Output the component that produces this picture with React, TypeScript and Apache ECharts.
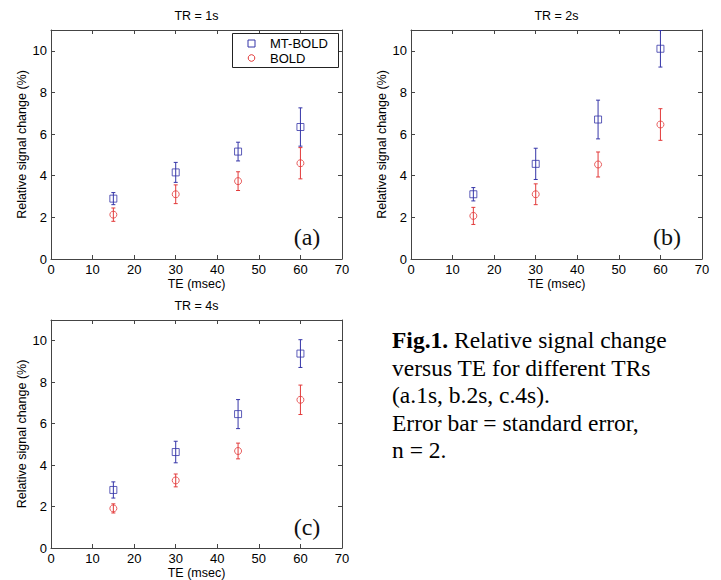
import React, { useEffect, useRef } from "react";
import * as echarts from "echarts";

// ---- data ----
const teValues = [15, 30, 45, 60];
const xTicks = [0, 10, 20, 30, 40, 50, 60, 70];
const panelTitles = ["TR = 1s", "TR = 2s", "TR = 4s"];
const panelTags = ["(a)", "(b)", "(c)"];
const seriesNames = ["MT-BOLD", "BOLD"];

const mtBoldA = [2.9, 4.16, 5.16, 6.34];
const mtBoldErrA = [0.29, 0.48, 0.45, 0.92];
const boldA = [2.13, 3.11, 3.74, 4.6];
const boldErrA = [0.32, 0.45, 0.45, 0.75];

const mtBoldB = [3.11, 4.57, 6.7, 10.1];
const mtBoldErrB = [0.32, 0.75, 0.93, 0.88];
const boldB = [2.07, 3.11, 4.54, 6.46];
const boldErrB = [0.41, 0.5, 0.6, 0.76];

const mtBoldC = [2.8, 4.63, 6.46, 9.38];
const mtBoldErrC = [0.39, 0.52, 0.7, 0.67];
const boldC = [1.91, 3.26, 4.68, 7.15];
const boldErrC = [0.22, 0.31, 0.38, 0.71];

const captionLines = [
  "Relative signal change",
  "versus TE for different TRs",
  "(a.1s, b.2s, c.4s).",
  "Error bar = standard error,",
  "n = 2.",
];

const BLUE = "#3535a8";
const RED = "#e23a3a";
const AX = "#444";
const SANS = "'Liberation Sans', Arial, sans-serif";
const SERIF = "'Liberation Serif', 'Times New Roman', serif";

const panels = [
  { left: 51, top: 30, mt: mtBoldA, mtErr: mtBoldErrA, bo: boldA, boErr: boldErrA },
  { left: 411, top: 30, mt: mtBoldB, mtErr: mtBoldErrB, bo: boldB, boErr: boldErrB },
  { left: 51, top: 320, mt: mtBoldC, mtErr: mtBoldErrC, bo: boldC, boErr: boldErrC },
];
const GW = 291;
const GH = 229;

function errorRenderer(color: string) {
  return (params: any, api: any) => {
    const x = api.value(0);
    const lo = api.value(1);
    const hi = api.value(2);
    const a = api.coord([x, lo]);
    const b = api.coord([x, hi]);
    const hw = 2;
    const style = { stroke: color, lineWidth: 1 };
    return {
      type: "group",
      children: [
        { type: "line", shape: { x1: a[0], y1: a[1], x2: b[0], y2: b[1] }, style },
        { type: "line", shape: { x1: a[0] - hw, y1: a[1], x2: a[0] + hw, y2: a[1] }, style },
        { type: "line", shape: { x1: b[0] - hw, y1: b[1], x2: b[0] + hw, y2: b[1] }, style },
      ],
    };
  };
}

export default function App() {
  const ref = useRef<HTMLDivElement>(null);
  useEffect(() => {
    if (!ref.current) return;
    const chart = echarts.init(ref.current, null, { renderer: "svg" });

    const grid: any[] = [];
    const xAxis: any[] = [];
    const yAxis: any[] = [];
    const series: any[] = [];
    const graphic: any[] = [];

    const lineStyle = { color: AX, width: 1 };
    panels.forEach((p, i) => {
      grid.push({ left: p.left, top: p.top, width: GW, height: GH, containLabel: false });
      // bottom x
      xAxis.push({
        gridIndex: i,
        type: "value",
        min: xTicks[0],
        max: xTicks[xTicks.length - 1],
        interval: 10,
        position: "bottom",
        axisLine: { show: true, onZero: false, lineStyle },
        axisTick: { show: true, inside: true, length: 4, lineStyle },
        splitLine: { show: false },
        axisLabel: { color: "#000", fontSize: 13, fontFamily: SANS, margin: 4 },
        name: "TE (msec)",
        nameLocation: "middle",
        nameGap: 18,
        nameTextStyle: { color: "#000", fontSize: 12.5, fontFamily: SANS, verticalAlign: "top" },
      });
      // top x
      xAxis.push({
        gridIndex: i,
        type: "value",
        min: xTicks[0],
        max: xTicks[xTicks.length - 1],
        interval: 10,
        position: "top",
        axisLine: { show: true, onZero: false, lineStyle },
        axisTick: { show: true, inside: true, length: 4, lineStyle },
        splitLine: { show: false },
        axisLabel: { show: false },
      });
      yAxis.push({
        gridIndex: i,
        type: "value",
        min: 0,
        max: 11,
        interval: 2,
        position: "left",
        axisLine: { show: true, onZero: false, lineStyle },
        axisTick: { show: true, inside: true, length: 4, lineStyle },
        splitLine: { show: false },
        axisLabel: { color: "#000", fontSize: 13, fontFamily: SANS, margin: 4, showMaxLabel: false },
        name: "Relative signal change (%)",
        nameLocation: "middle",
        nameGap: 21,
        nameTextStyle: { color: "#000", fontSize: 12.5, fontFamily: SANS },
      });
      yAxis.push({
        gridIndex: i,
        type: "value",
        min: 0,
        max: 11,
        interval: 2,
        position: "right",
        axisLine: { show: true, onZero: false, lineStyle },
        axisTick: { show: true, inside: true, length: 4, lineStyle },
        splitLine: { show: false },
        axisLabel: { show: false },
      });

      const xi = i * 2;
      const yi = i * 2;
      const mtErrData = teValues.map((t, k) => [t, p.mt[k] - p.mtErr[k], p.mt[k] + p.mtErr[k]]);
      const boErrData = teValues.map((t, k) => [t, p.bo[k] - p.boErr[k], p.bo[k] + p.boErr[k]]);
      series.push({
        type: "custom",
        xAxisIndex: xi,
        yAxisIndex: yi,
        clip: true,
        renderItem: errorRenderer(BLUE),
        data: mtErrData,
        silent: true,
      });
      series.push({
        type: "custom",
        xAxisIndex: xi,
        yAxisIndex: yi,
        clip: true,
        renderItem: errorRenderer(RED),
        data: boErrData,
        silent: true,
      });
      series.push({
        type: "scatter",
        name: seriesNames[0],
        xAxisIndex: xi,
        yAxisIndex: yi,
        symbol: "rect",
        symbolSize: 7,
        itemStyle: { color: "rgba(255,255,255,0)", borderColor: BLUE, borderWidth: 1 },
        data: teValues.map((t, k) => [t, p.mt[k]]),
      });
      series.push({
        type: "scatter",
        name: seriesNames[1],
        xAxisIndex: xi,
        yAxisIndex: yi,
        symbol: "circle",
        symbolSize: 7,
        itemStyle: { color: "rgba(255,255,255,0)", borderColor: RED, borderWidth: 1 },
        data: teValues.map((t, k) => [t, p.bo[k]]),
      });

      // panel title
      graphic.push({
        type: "text",
        x: p.left + GW / 2,
        y: p.top - 14,
        style: {
          text: panelTitles[i],
          fontSize: 12.5,
          fontFamily: SANS,
          fill: "#000",
          align: "center",
          verticalAlign: "middle",
        },
      });
      // panel tag
      graphic.push({
        type: "text",
        x: p.left + 256,
        y: p.top + 207,
        style: {
          text: panelTags[i],
          fontSize: 24,
          fontFamily: SERIF,
          fill: "#111",
          align: "center",
          verticalAlign: "middle",
        },
      });
    });

    // legend (panel a)
    graphic.push({
      type: "rect",
      shape: { x: 232.5, y: 33.5, width: 106, height: 34 },
      style: { fill: "#fff", stroke: "#222", lineWidth: 1 },
      z: 10,
    });
    graphic.push({
      type: "rect",
      shape: { x: 248, y: 40, width: 7, height: 7 },
      style: { fill: "none", stroke: BLUE, lineWidth: 1 },
      z: 11,
    });
    graphic.push({
      type: "circle",
      shape: { cx: 251.5, cy: 58, r: 3.3 },
      style: { fill: "none", stroke: RED, lineWidth: 1 },
      z: 11,
    });
    graphic.push({
      type: "text",
      x: 270,
      y: 43.5,
      z: 11,
      style: { text: seriesNames[0], fontSize: 13, fontFamily: SANS, fill: "#000", verticalAlign: "middle" },
    });
    graphic.push({
      type: "text",
      x: 270,
      y: 58.5,
      z: 11,
      style: { text: seriesNames[1], fontSize: 13, fontFamily: SANS, fill: "#000", verticalAlign: "middle" },
    });

    // caption
    const capY = [340, 367.5, 395, 422.5, 450];
    captionLines.forEach((line, k) => {
      if (k === 0) {
        graphic.push({
          type: "text",
          x: 392,
          y: capY[k],
          style: {
            text: "{b|Fig.1.} " + line,
            fontSize: 23.5,
            fontFamily: SERIF,
            fill: "#000",
            verticalAlign: "middle",
            rich: { b: { fontWeight: "bold", fontSize: 23.5, fontFamily: SERIF, fill: "#000" } },
          },
        });
      } else {
        graphic.push({
          type: "text",
          x: 392,
          y: capY[k],
          style: { text: line, fontSize: 23.5, fontFamily: SERIF, fill: "#000", verticalAlign: "middle" },
        });
      }
    });

    chart.setOption({
      animation: false,
      backgroundColor: "#fff",
      grid,
      xAxis,
      yAxis,
      series,
      graphic,
    });
    return () => chart.dispose();
  }, []);
  return (
    <div
      ref={ref}
      style={{ position: "absolute", left: 0, top: 0, width: 721, height: 580, background: "#fff" }}
    />
  );
}
